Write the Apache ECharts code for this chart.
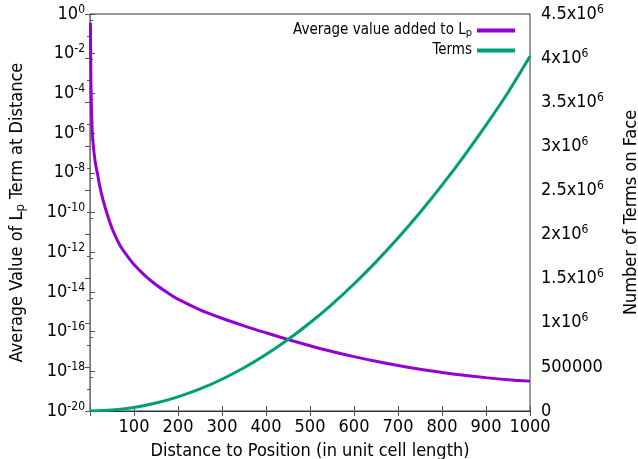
<!DOCTYPE html>
<html>
<head>
<meta charset="utf-8">
<script src="https://cdn.jsdelivr.net/npm/echarts@6/dist/echarts.min.js"></script>
<style>html,body{margin:0;padding:0;background:#fff}#c{width:638px;height:459px}</style>
</head>
<body>
<div id="c"></div>
<script>
// Distance to position (unit cell lengths) for the average-value series
const avgDistances = [1, 2, 3, 4, 5, 6, 8, 10, 13, 17, 22, 30, 40, 50, 60, 70, 85, 100, 125, 150, 175, 200, 250, 300, 350, 400, 450, 500, 550, 600, 650, 700, 750, 800, 850, 900, 950, 1000];
// Average value of L_p term at distance
const avgValues = [3.6e-1, 6.3e-4, 3.2e-5, 5.0e-6, 1.4e-6, 6.3e-7, 1.8e-7, 7.1e-8, 2.5e-8, 8.9e-9, 2.2e-9, 4.0e-10, 7.1e-11, 1.6e-11, 5.0e-12, 1.9e-12, 6.3e-13, 2.4e-13, 6.6e-14, 2.3e-14, 9.5e-15, 4.3e-15, 1.26e-15, 4.7e-16, 1.95e-16, 8.7e-17, 4.0e-17, 1.95e-17, 1.0e-17, 5.5e-18, 3.2e-18, 1.95e-18, 1.26e-18, 8.7e-19, 6.3e-19, 4.8e-19, 3.8e-19, 3.2e-19];
// Distance for the number-of-terms series
const termDistances = [0, 50, 100, 150, 200, 250, 300, 350, 400, 450, 500, 550, 600, 650, 700, 750, 800, 850, 900, 950, 1000];
// Number of terms on face
const termCounts = [0, 10000, 40000, 90000, 160000, 250000, 360000, 490000, 640000, 810000, 1000000, 1210000, 1440000, 1690000, 1960000, 2250000, 2560000, 2890000, 3240000, 3610000, 4020000];
const xTicks = [100, 200, 300, 400, 500, 600, 700, 800, 900, 1000];
const seriesNames = ['Average value added to Lp', 'Terms'];

const FONT = 'DejaVu Sans Condensed';
const supStyle = { fontSize: 12, fontFamily: FONT, color: '#000', padding: [0, 0, 9, 0] };
const baseStyle = { fontSize: 18, fontFamily: FONT, color: '#000' };

const chart = echarts.init(document.getElementById('c'), null, { renderer: 'canvas' });
chart.setOption({
  animation: false,
  backgroundColor: '#fff',
  grid: { left: 90, right: 108, top: 14, bottom: 48, outerBoundsMode: 'none', containLabel: false,
    show: true, borderColor: '#333', borderWidth: 1, backgroundColor: 'transparent' },
  legend: {
    orient: 'vertical', right: 118, top: 18, align: 'right', itemGap: 4,
    itemWidth: 38, itemHeight: 4, icon: 'rect',
    data: seriesNames,
    formatter: function (n) { return n === seriesNames[0] ? '{b|Average value added to L}{s|p}' : '{b|Terms}'; },
    textStyle: { fontFamily: FONT, fontSize: 15, color: '#000',
      rich: { b: { fontSize: 15, fontFamily: FONT, color: '#000' }, s: { fontSize: 11, fontFamily: FONT, color: '#000', padding: [6, 0, 0, 0] } } }
  },
  xAxis: [{
    type: 'value', min: 0, max: 1000, interval: 100, position: 'bottom',
    name: 'Distance to Position (in unit cell length)', nameLocation: 'middle', nameGap: 31,
    nameTextStyle: { fontFamily: FONT, fontSize: 18, color: '#000' },
    axisLine: { show: true, onZero: false, lineStyle: { color: '#777', width: 1 } },
    axisTick: { show: true, inside: true, length: 5, lineStyle: { color: '#555' } },
    axisLabel: { margin: 7, fontFamily: FONT, fontSize: 18, color: '#000',
      formatter: function (v) { return xTicks.indexOf(v) >= 0 ? String(v) : ''; } },
    splitLine: { show: false }
  }, {
    type: 'value', min: 0, max: 1000, interval: 100, position: 'top',
    axisLine: { show: true, lineStyle: { color: '#333', width: 1 } },
    axisTick: { show: true, inside: true, length: 5, lineStyle: { color: '#555' } },
    axisLabel: { show: false }, splitLine: { show: false }
  }],
  yAxis: [{
    type: 'log', logBase: 10, min: 1e-20, max: 1, interval: 2, position: 'left',
    name: '{b|Average Value of L}{s|p}{b| Term at Distance}', nameLocation: 'middle', nameGap: 63, nameRotate: 90,
    nameTextStyle: { fontFamily: FONT, fontSize: 18, color: '#000',
      rich: { b: baseStyle, s: { fontSize: 13, fontFamily: FONT, color: '#000', padding: [7, 0, 0, 0] } } },
    axisLine: { show: true, lineStyle: { color: '#777', width: 1 } },
    axisTick: { show: true, inside: true, length: 5, lineStyle: { color: '#555' } },
    minorTick: { show: true, splitNumber: 2, length: 3, lineStyle: { color: '#555' } },
    axisLabel: { margin: 5, fontFamily: FONT, fontSize: 18, color: '#000',
      formatter: function (v) { const e = Math.round(Math.log10(v)); return '{b|10}{s|' + e + '}'; },
      rich: { b: baseStyle, s: supStyle } },
    splitLine: { show: false }, minorSplitLine: { show: false }
  }, {
    type: 'value', min: 0, max: 4500000, interval: 500000, position: 'right',
    name: 'Number of Terms on Face', nameLocation: 'middle', nameGap: 92, nameRotate: 90,
    nameTextStyle: { fontFamily: FONT, fontSize: 18, color: '#000' },
    axisLine: { show: true, lineStyle: { color: '#777', width: 1 } },
    axisTick: { show: true, inside: true, length: 5, lineStyle: { color: '#555' } },
    minorTick: { show: true, splitNumber: 2, length: 3, lineStyle: { color: '#555' } },
    axisLabel: { margin: 11, fontFamily: FONT, fontSize: 18, color: '#000',
      formatter: function (v) {
        if (v === 0) return '{b|0}';
        if (v === 500000) return '{b|500000}';
        const m = v / 1e6;
        return '{b|' + m + 'x10}{s|6}';
      },
      rich: { b: baseStyle, s: supStyle } },
    splitLine: { show: false }
  }],
  series: [{
    name: seriesNames[0], type: 'line', xAxisIndex: 0, yAxisIndex: 0,
    data: avgDistances.map(function (d, i) { return [d, avgValues[i]]; }),
    showSymbol: false, smooth: 0.3, lineStyle: { color: '#9400d3', width: 3 }, itemStyle: { color: '#9400d3' }
  }, {
    name: seriesNames[1], type: 'line', xAxisIndex: 0, yAxisIndex: 1,
    data: termDistances.map(function (d, i) { return [d, termCounts[i]]; }),
    showSymbol: false, smooth: 0.3, lineStyle: { color: '#009e73', width: 3 }, itemStyle: { color: '#009e73' }
  }]
});
</script>
</body>
</html>
